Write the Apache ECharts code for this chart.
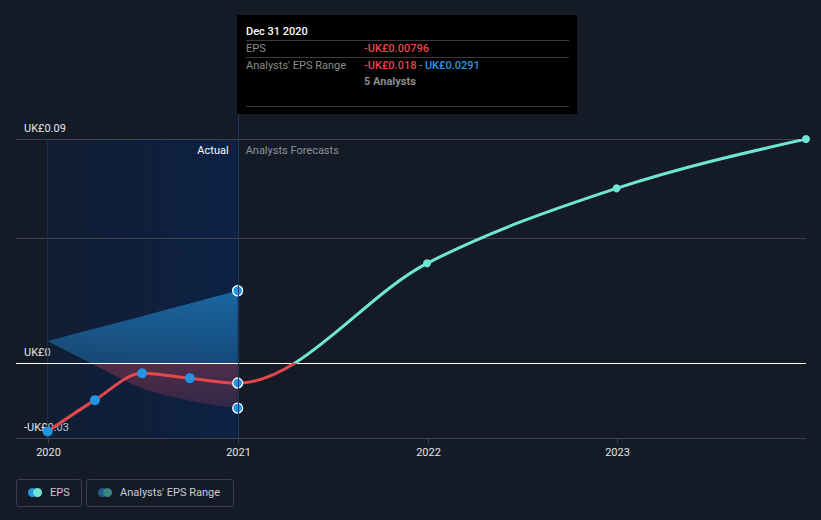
<!DOCTYPE html>
<html>
<head>
<meta charset="utf-8">
<script src="https://cdn.jsdelivr.net/npm/echarts@6/dist/echarts.min.js"></script>
<style>
html,body{margin:0;padding:0;background:#151b26;}
#chart{width:821px;height:520px;}
</style>
</head>
<body>
<div id="chart"></div>
<script>
// ---------- data ----------
const actualDates = ['2019-12-31', '2020-03-31', '2020-06-30', '2020-09-30', '2020-12-31'];
const actualEps = [-0.0274, -0.0148, -0.0040, -0.0060, -0.00796];
const forecastDates = ['2021-12-31', '2022-12-31', '2023-12-31'];
const forecastEps = [0.0401, 0.0702, 0.0900];
const rangeDates = ['2019-12-31', '2020-03-31', '2020-06-30', '2020-09-30', '2020-12-31'];
const rangeLow = [0.0088, -0.0008, -0.0100, -0.0150, -0.0180];
const rangeHigh = [0.0088, 0.0139, 0.0189, 0.0240, 0.0291];
const yTickValues = [-0.03, 0, 0.09];
const yGridValues = [-0.03, 0.05, 0.09];
const xTickLabels = ['2020', '2021', '2022', '2023'];
const xMin = '2019-10-31';
const xMax = '2023-12-31';
const focusDate = '2020-12-31';
const analystsCount = 5;

// ---------- styles ----------
const FONT = 'Roboto, "Noto Sans", sans-serif';
const RED = '#e5474c';
const TEAL = '#6fe6d3';
const BLUE = '#2394df';
const BG = '#151b26';
const GRID = '#3d424c';

const T = s => echarts.time.parse(s).getTime();
const epsDates = actualDates.concat(forecastDates);
const epsValues = actualEps.concat(forecastEps);

function fmt(v) { return (v < 0 ? '-' : '') + 'UK£' + Math.abs(v); }
const MONTHS = ['Jan','Feb','Mar','Apr','May','Jun','Jul','Aug','Sep','Oct','Nov','Dec'];
function fmtDate(s) { const p = s.split('-'); return MONTHS[+p[1] - 1] + ' ' + (+p[2]) + ' ' + p[0]; }

// monotone-x cubic (same as d3.curveMonotoneX)
function tangents(p) {
  const n = p.length, t = new Array(n).fill(0), s = [], h = [];
  for (let i = 0; i < n - 1; i++) { h[i] = p[i + 1][0] - p[i][0]; s[i] = (p[i + 1][1] - p[i][1]) / h[i]; }
  if (n < 3) { t[0] = t[n - 1] = s[0] || 0; return t; }
  for (let i = 1; i < n - 1; i++) {
    const pp = (s[i - 1] * h[i] + s[i] * h[i - 1]) / (h[i - 1] + h[i]);
    t[i] = (Math.sign(s[i - 1]) + Math.sign(s[i])) * Math.min(Math.abs(s[i - 1]), Math.abs(s[i]), 0.5 * Math.abs(pp)) || 0;
  }
  t[0] = (3 * s[0] - t[1]) / 2;
  t[n - 1] = (3 * s[n - 2] - t[n - 2]) / 2;
  return t;
}
function forwardPath(p) {
  const t = tangents(p);
  let d = '';
  for (let i = 0; i < p.length - 1; i++) {
    const dx = (p[i + 1][0] - p[i][0]) / 3;
    d += ' C' + (p[i][0] + dx) + ' ' + (p[i][1] + dx * t[i]) + ' ' + (p[i + 1][0] - dx) + ' ' + (p[i + 1][1] - dx * t[i + 1]) + ' ' + p[i + 1][0] + ' ' + p[i + 1][1];
  }
  return d;
}
function backwardPath(p) {
  const t = tangents(p);
  let d = '';
  for (let i = p.length - 2; i >= 0; i--) {
    const dx = (p[i + 1][0] - p[i][0]) / 3;
    d += ' C' + (p[i + 1][0] - dx) + ' ' + (p[i + 1][1] - dx * t[i + 1]) + ' ' + (p[i][0] + dx) + ' ' + (p[i][1] + dx * t[i]) + ' ' + p[i][0] + ' ' + p[i][1];
  }
  return d;
}
function coords(params, api, yDim) {
  const a = [];
  for (let i = 0; i < params.dataInsideLength; i++) a.push(api.coord([api.value(0, i), api.value(yDim, i)]));
  return a;
}

const chart = echarts.init(document.getElementById('chart'), null, { renderer: 'svg' });

const fi = actualDates.indexOf(focusDate);
const ri = rangeDates.indexOf(focusDate);

const option = {
  backgroundColor: BG,
  animation: false,
  textStyle: { fontFamily: FONT },
  grid: { left: 16, right: 15, top: 139, bottom: 82, containLabel: false, show: false },
  xAxis: {
    type: 'time',
    show: false,
    min: T(xMin),
    max: T(xMax),
    splitLine: { show: false }
  },
  yAxis: {
    type: 'value',
    min: -0.03,
    max: 0.09,
    interval: 0.03,
    axisLine: { show: false },
    axisTick: { show: false },
    splitLine: { show: false },
    axisLabel: {
      inside: true,
      margin: 8,
      verticalAlign: 'bottom',
      padding: [0, 0, 5, 0],
      color: '#e4e4e4', fontSize: 11, fontFamily: FONT,
      formatter: v => yTickValues.some(t => Math.abs(t - v) < 1e-9) ? fmt(+(+v).toFixed(4)) : ''
    }
  },
  series: [
    {
      name: 'background',
      type: 'line',
      data: [],
      z: 1,
      silent: true,
      markArea: {
        silent: true,
        data: [
          [
            {
              xAxis: T(actualDates[0]),
              itemStyle: {
                color: new echarts.graphic.LinearGradient(0, 0, 1, 0, [
                  { offset: 0, color: 'rgba(1,40,105,0.2)' },
                  { offset: 1, color: 'rgba(1,42,110,0.42)' }
                ])
              },
              label: {
                show: true, formatter: 'Actual', position: 'insideTopRight', distance: 0,
                padding: [6, 9, 0, 0], color: '#ffffff', fontSize: 11, fontFamily: FONT
              }
            },
            { xAxis: T(focusDate) }
          ],
          [
            {
              xAxis: T(focusDate),
              itemStyle: { color: 'rgba(0,0,0,0)' },
              label: {
                show: true, formatter: 'Analysts Forecasts', position: 'insideTopLeft', distance: 0,
                padding: [6, 0, 0, 8], color: '#8b9099', fontSize: 11, fontFamily: FONT
              }
            },
            { xAxis: T(xMax) }
          ]
        ]
      },
      markLine: {
        silent: true,
        symbol: ['none', 'none'],
        label: { show: false },
        data: yGridValues.map(v => ({ yAxis: v, lineStyle: { color: GRID, width: 1, type: 'solid' } }))
          .concat([{ xAxis: T(actualDates[0]), lineStyle: { color: '#1c2d48', width: 1, type: 'solid' } }])
      }
    },
    {
      name: "Analysts' EPS Range",
      type: 'custom',
      coordinateSystem: 'cartesian2d',
      z: 3,
      clip: true,
      silent: true,
      encode: { x: 0, y: [1, 2] },
      data: rangeDates.map((d, i) => [T(d), rangeLow[i], rangeHigh[i]]),
      renderItem: function (params, api) {
        if (params.dataIndex !== 0) return null;
        const low = coords(params, api, 1);
        const high = coords(params, api, 2);
        const zeroY = api.coord([api.value(0, 0), 0])[1];
        let top = Infinity, bottom = -Infinity;
        high.concat(low).forEach(p => { top = Math.min(top, p[1]); bottom = Math.max(bottom, p[1]); });
        const z = Math.max(0, Math.min(1, (zeroY - top) / (bottom - top)));
        const d = 'M' + high[0][0] + ' ' + high[0][1] + forwardPath(high) +
          ' L' + low[low.length - 1][0] + ' ' + low[low.length - 1][1] + backwardPath(low) + ' Z';
        return {
          type: 'path',
          shape: { pathData: d },
          style: {
            fill: new echarts.graphic.LinearGradient(0, top, 0, bottom, [
              { offset: 0, color: 'rgba(35,148,223,0.6)' },
              { offset: z, color: 'rgba(35,148,223,0.36)' },
              { offset: z, color: 'rgba(225,72,95,0.32)' },
              { offset: 1, color: 'rgba(225,72,95,0.17)' }
            ], true),
            stroke: null
          }
        };
      }
    },
    {
      name: 'zero',
      type: 'line',
      data: [],
      z: 4,
      silent: true,
      markLine: {
        silent: true,
        symbol: ['none', 'none'],
        label: { show: false },
        lineStyle: { color: '#ffffff', width: 1, type: 'solid' },
        data: [{ yAxis: 0 }]
      }
    },
    {
      name: 'EPS',
      type: 'custom',
      coordinateSystem: 'cartesian2d',
      z: 5,
      clip: true,
      silent: true,
      encode: { x: 0, y: 1 },
      data: epsDates.map((d, i) => [T(d), epsValues[i]]),
      renderItem: function (params, api) {
        if (params.dataIndex !== 0) return null;
        const p = coords(params, api, 1);
        const zeroY = api.coord([api.value(0, 0), 0])[1];
        const d = 'M' + p[0][0] + ' ' + p[0][1] + forwardPath(p);
        return {
          type: 'path',
          shape: { pathData: d },
          style: {
            fill: null,
            stroke: new echarts.graphic.LinearGradient(0, zeroY - 0.5, 0, zeroY + 0.5, [
              { offset: 0, color: TEAL },
              { offset: 0.5, color: TEAL },
              { offset: 0.5, color: RED },
              { offset: 1, color: RED }
            ], true),
            lineWidth: 3,
            lineCap: 'round',
            lineJoin: 'round'
          }
        };
      }
    },
    {
      name: 'EPS points',
      type: 'scatter',
      z: 6,
      silent: true,
      symbol: 'circle',
      data: epsDates.map((d, i) => {
        const isActual = i < actualDates.length;
        const focus = d === focusDate;
        return {
          value: [T(d), epsValues[i]],
          symbolSize: isActual ? 10 : 8,
          itemStyle: {
            color: isActual ? BLUE : TEAL,
            borderColor: focus ? '#ffffff' : 'rgba(0,0,0,0)',
            borderWidth: focus ? 1.3 : 0,
            opacity: 1
          }
        };
      })
    },
    {
      name: 'Range points',
      type: 'scatter',
      z: 6,
      silent: true,
      symbol: 'circle',
      symbolSize: 10,
      itemStyle: { color: BLUE, borderColor: '#ffffff', borderWidth: 1.3, opacity: 1 },
      data: [[T(rangeDates[ri]), rangeLow[ri]], [T(rangeDates[ri]), rangeHigh[ri]]]
    }
  ]
};

chart.setOption(option);

// ---------- overlay: hover line, x axis ticks/labels, tooltip, legend ----------
const fx = Math.round(chart.convertToPixel({ gridIndex: 0 }, [T(focusDate), 0])[0]);
const gBottom = chart.convertToPixel({ gridIndex: 0 }, [T(focusDate), -0.03])[1];
const tipX = fx - 1, tipY = 15;

const txt = (x, y, text, fill, weight, extra) => ({
  type: 'text', x: x, y: y,
  style: Object.assign({ text: text, fill: fill, fontSize: 11, fontFamily: FONT, fontWeight: weight || 'normal', verticalAlign: 'middle' }, extra || {})
});
const hl = (x1, y, x2, color) => ({ type: 'line', shape: { x1: x1, y1: y, x2: x2, y2: y }, style: { stroke: color, lineWidth: 1 } });

const xAxisEls = [];
xTickLabels.forEach(lbl => {
  const x = Math.round(chart.convertToPixel({ gridIndex: 0 }, [T(lbl + '-01-01'), -0.03])[0]) + 0.5;
  xAxisEls.push({ type: 'line', silent: true, z: 10, shape: { x1: x, y1: gBottom, x2: x, y2: gBottom + 5 }, style: { stroke: GRID, lineWidth: 1 } });
  xAxisEls.push(txt(x, gBottom + 14, lbl, '#e4e4e4', 'normal', { align: 'center' }));
});

chart.setOption({
  graphic: xAxisEls.concat([
    { type: 'line', z: 50, silent: true, shape: { x1: fx + 0.5, y1: tipY + 99, x2: fx + 0.5, y2: gBottom }, style: { stroke: '#1d3963', lineWidth: 1 } },
    {
      type: 'group', x: tipX, y: tipY, z: 100, silent: true,
      children: [
        { type: 'rect', shape: { x: 0, y: 0, width: 340, height: 99 }, style: { fill: '#000000' } },
        txt(9, 16, fmtDate(focusDate), '#ffffff', 500),
        hl(9, 25.5, 332, '#3a3a3a'),
        txt(9, 33, 'EPS', '#8c8c8c'),
        txt(127, 33, fmt(actualEps[fi]), RED, 500),
        hl(9, 42.5, 332, '#3a3a3a'),
        txt(9, 50, "Analysts' EPS Range", '#8c8c8c'),
        txt(127, 50, '{r|' + fmt(rangeLow[ri]) + '}{g| - }{b|' + fmt(rangeHigh[ri]) + '}', '#8c8c8c', 500, {
          rich: {
            r: { fill: RED, fontSize: 11, fontFamily: FONT, fontWeight: 500 },
            g: { fill: '#8c8c8c', fontSize: 11, fontFamily: FONT },
            b: { fill: '#2b97e2', fontSize: 11, fontFamily: FONT, fontWeight: 500 }
          }
        }),
        txt(127, 66, analystsCount + ' Analysts', '#8c8c8c', 'bold'),
        hl(9, 91.5, 332, '#3a3a3a')
      ]
    },
    {
      type: 'group', x: 0, y: 0, z: 100, silent: true,
      children: [
        { type: 'rect', shape: { x: 16.5, y: 479.5, width: 65, height: 27, r: 2 }, style: { fill: 'none', stroke: '#3a3f4a', lineWidth: 1 } },
        { type: 'circle', shape: { cx: 32.5, cy: 492.5, r: 4.5 }, style: { fill: BLUE } },
        { type: 'circle', shape: { cx: 37.5, cy: 492.5, r: 4.5 }, style: { fill: TEAL } },
        txt(50, 492.5, 'EPS', '#c9ccd1'),
        { type: 'rect', shape: { x: 86.5, y: 479.5, width: 147, height: 27, r: 2 }, style: { fill: 'none', stroke: '#3a3f4a', lineWidth: 1 } },
        { type: 'circle', shape: { cx: 102.5, cy: 492.5, r: 4.5 }, style: { fill: '#1d5a8a' } },
        { type: 'circle', shape: { cx: 107.5, cy: 492.5, r: 4.5 }, style: { fill: '#3a8580' } },
        txt(120, 492.5, "Analysts' EPS Range", '#c9ccd1')
      ]
    }
  ])
});
</script>
</body>
</html>
